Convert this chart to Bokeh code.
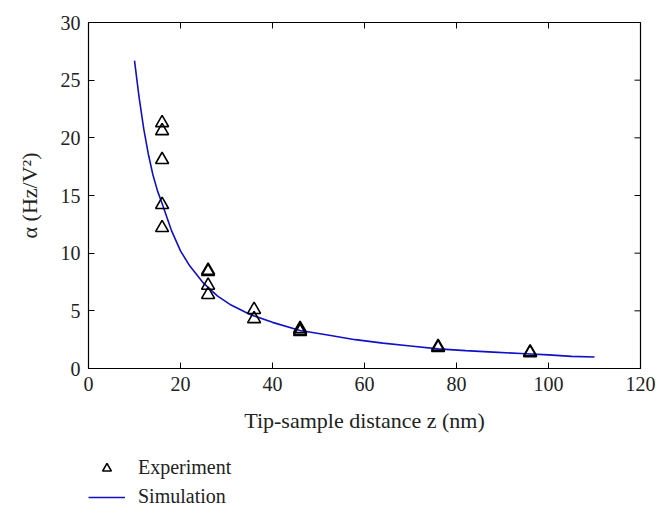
import math
from bokeh.plotting import figure
from bokeh.layouts import column
from bokeh.models import Range1d, Legend, LegendItem, FixedTicker
from bokeh.embed import file_html
from bokeh.resources import INLINE

# Experimental data (tip-sample distance z in nm, alpha in Hz/V^2)
exp_z = [16, 16, 16, 16, 16, 26, 26, 26, 26, 36, 36, 46, 46, 46, 76, 76, 96, 96]
exp_alpha = [21.3, 20.6, 18.1, 14.2, 12.2, 8.5, 8.4, 7.2, 6.4, 5.1, 4.3, 3.45, 3.3, 3.2, 1.9, 1.8, 1.42, 1.35]

# Simulation curve
sim_z = [10, 11, 12, 13, 14, 15, 16, 18, 20, 22, 25, 28, 31, 35, 40, 46, 52, 58,
         64, 70, 76, 82, 88, 94, 100, 105, 110]
sim_alpha = [26.7, 23.5, 20.8, 18.6, 16.8, 15.4, 14.3, 12.0, 10.2, 8.9, 7.4, 6.3, 5.5,
             4.7, 4.0, 3.3, 2.9, 2.5, 2.2, 1.95, 1.7, 1.55, 1.42, 1.3, 1.18, 1.05, 1.0]

x_ticks = [0, 20, 40, 60, 80, 100, 120]
y_ticks = [0, 5, 10, 15, 20, 25, 30]
series_labels = ["Experiment", "Simulation"]

FONT = "Liberation Serif"
TXT = "#222222"
SIM_COLOR = "#1010c8"

p = figure(output_backend="svg", toolbar_location=None,
           x_range=Range1d(x_ticks[0], x_ticks[-1]), y_range=Range1d(y_ticks[0], y_ticks[-1]),
           frame_width=552, frame_height=346,
           min_border_left=88, min_border_top=22, min_border_right=28, min_border_bottom=80,
           x_axis_label="Tip-sample distance z (nm)", y_axis_label="α (Hz/V²)")
p.grid.visible = False
p.outline_line_color = "black"
p.outline_line_width = 1.2
p.background_fill_color = "white"
p.border_fill_color = "white"

for ax, ticks in ((p.xaxis[0], x_ticks), (p.yaxis[0], y_ticks)):
    ax.ticker = FixedTicker(ticks=ticks)
    ax.major_tick_in = 6
    ax.major_tick_out = 0
    ax.minor_tick_line_color = None
    ax.axis_line_color = "black"
    ax.major_tick_line_color = "black"
    ax.major_label_text_font = FONT
    ax.major_label_text_font_size = "20px"
    ax.major_label_text_color = TXT
    ax.axis_label_text_font = FONT
    ax.axis_label_text_font_size = "22px"
    ax.axis_label_text_font_style = "normal"
    ax.axis_label_text_color = TXT

p.xaxis[0].major_label_standoff = 8
p.xaxis[0].axis_label_standoff = 14
p.yaxis[0].major_label_standoff = 8
p.yaxis[0].axis_label_standoff = 16

# Inward ticks on the top and right edges of the box (no labels)
p.ray(x=x_ticks, y=[y_ticks[-1]] * len(x_ticks), length=6, length_units="screen",
      angle=-math.pi / 2, line_color="black", line_width=1)
p.ray(x=[x_ticks[-1]] * len(y_ticks), y=y_ticks, length=6, length_units="screen",
      angle=math.pi, line_color="black", line_width=1)

p.line(sim_z, sim_alpha, line_color=SIM_COLOR, line_width=1.6)
p.scatter(exp_z, exp_alpha, marker="triangle", size=13, fill_color=None,
          line_color="black", line_width=1.6)

# Legend strip below the chart (proxy renderers sit outside the visible range)
p2 = figure(width=668, height=66, output_backend="svg", toolbar_location=None,
            x_range=Range1d(0, 1), y_range=Range1d(0, 1),
            x_axis_type=None, y_axis_type=None, min_border=0)
p2.grid.visible = False
p2.outline_line_color = None
p2.background_fill_color = "white"
p2.border_fill_color = "white"
exp_proxy = p2.scatter(x=[-5], y=[-5], marker="triangle", size=9, fill_color=None,
                       line_color="black", line_width=1.6)
sim_proxy = p2.line(x=[-5, -4], y=[-5, -5], line_color=SIM_COLOR, line_width=1.6)

legend = Legend(items=[LegendItem(label=series_labels[0], renderers=[exp_proxy]),
                       LegendItem(label=series_labels[1], renderers=[sim_proxy])],
                location=(0, 6), orientation="vertical",
                border_line_color=None, background_fill_alpha=0,
                label_text_font=FONT, label_text_font_size="20px", label_text_color=TXT,
                glyph_width=37, glyph_height=22, label_standoff=13, spacing=6,
                padding=0, margin=0)
p2.add_layout(legend, "center")

open("out.html", "w").write(file_html(column(p, p2), INLINE))
